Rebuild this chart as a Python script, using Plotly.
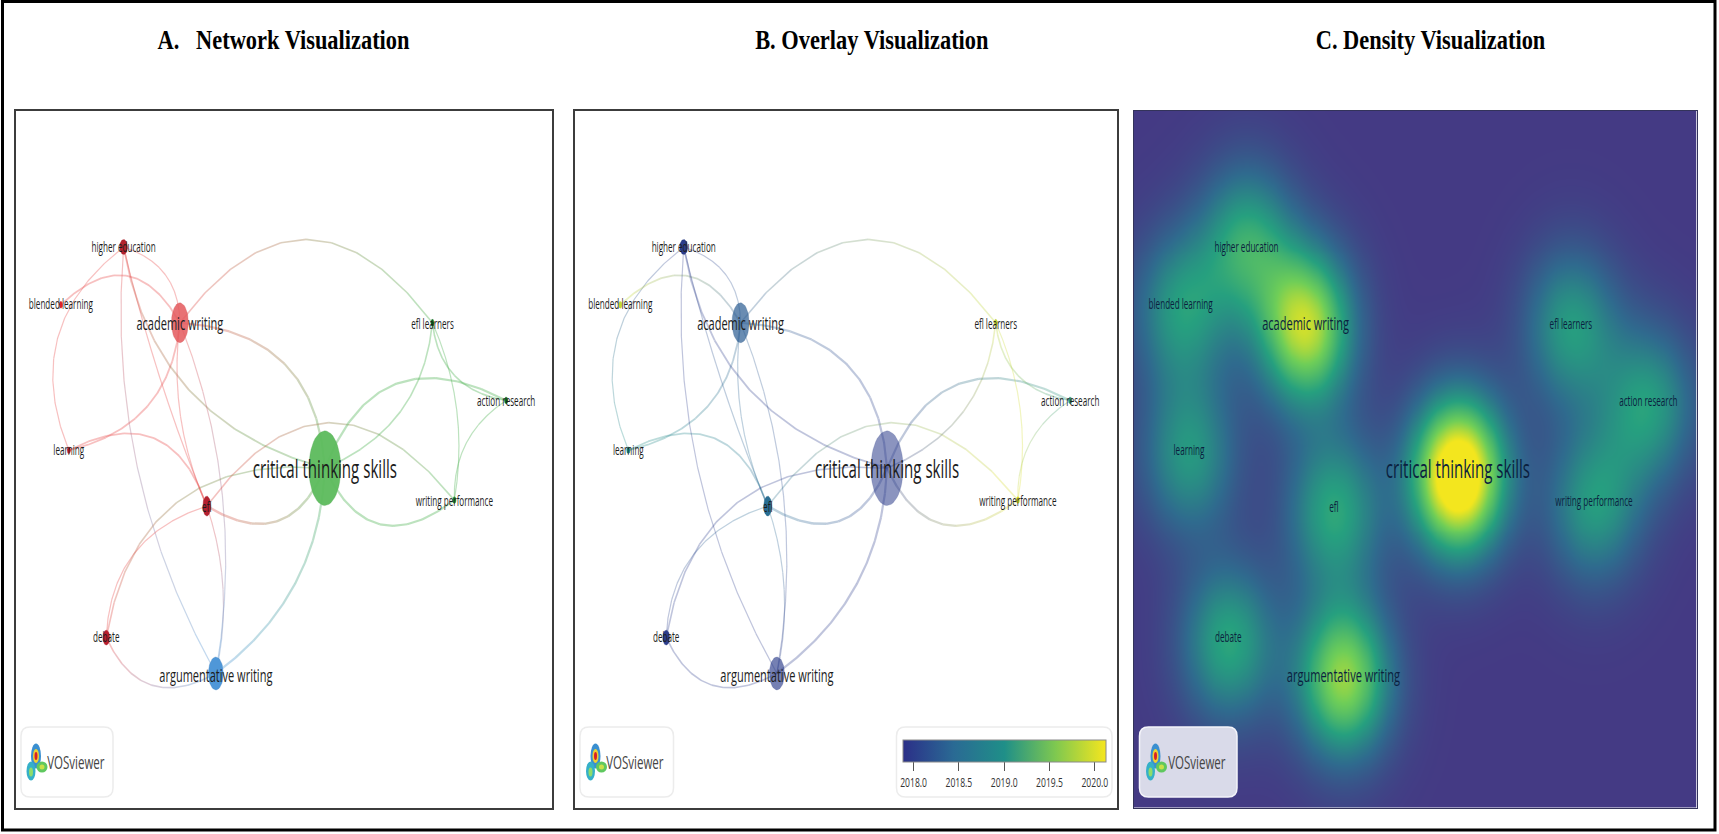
import numpy as np
import plotly.graph_objects as go
from plotly.colors import sample_colorscale

W, H = 1719, 834

# network (panel units: 538 wide, 700 high, y up)
node_names = ["higher education", "blended learning", "academic writing", "efl learners",
              "action research", "learning", "critical thinking skills", "efl",
              "writing performance", "debate", "argumentative writing"]
node_x = [108, 45, 164.5, 418, 492, 53, 310, 191.5, 440, 90.6, 200.6]
node_y = [563, 505, 487, 487, 409, 359, 341, 303, 309, 171, 135]
node_w = [8, 3.5, 17, 3.5, 3.5, 3.5, 32, 8, 3.5, 7, 15]
node_h = [15, 7, 40, 7, 7, 7, 75, 20, 7, 15, 33]
label_y = [562, 504, 484, 484, 407, 358, 338, 301, 307, 170, 131]
label_size = [14, 14, 19, 14, 14, 14, 26, 14, 14, 14, 19]

cluster_colors = ["#b3222e", "#e0202a", "#e4585c", "#0c6e1f", "#0c6e1f", "#c81e2a",
                  "#5cbb5c", "#b5202e", "#1c8a2c", "#b81e2c", "#4f97d8"]
edge_colors = ["#e8504f", "#e8504f", "#e8504f", "#45b04a", "#45b04a", "#e8504f",
               "#45b04a", "#e8504f", "#45b04a", "#e8504f", "#4f97d8"]
node_alpha = [1, 1, .85, 1, 1, 1, .95, 1, 1, 1, 1]

overlay_years = [2018.0, 2019.9, 2018.3, 2019.9, 2019.1, 2019.0, 2018.0, 2018.5, 2020.0, 2018.0, 2018.0]
overlay_alpha = [1, 1, .7, 1, 1, 1, .55, 1, 1, 1, .65]
year_ticks = [2018.0, 2018.5, 2019.0, 2019.5, 2020.0]
year_min, year_max = 2017.88, 2020.12

# links: source, target, sideways bulge (share of chord), width
edge_src = [0, 0, 1, 5, 5, 0, 0, 0, 2, 2, 2, 2, 7, 7, 7, 9, 7, 9, 6, 6, 6, 6, 3, 3, 4]
edge_dst = [2, 5, 2, 2, 7, 10, 7, 6, 7, 10, 6, 3, 6, 10, 9, 6, 8, 10, 10, 8, 3, 4, 4, 8, 8]
edge_bend = [.18, -.19, .32, -.18, .29, -.076, -.02, -.16, -.07, .07, .22, .33, -.29, .07,
             -.175, .23, .325, -.27, .12, -.31, -.15, .28, -.19, .075, -.14]
edge_width = [1.2, 1.2, 1.8, 1.8, 1.8, 1.2, 1.2, 1.8, 1.2, 1.2, 2.2, 1.6, 2.4, 1.2, 1.2, 1.6, 1.6, 1.6, 2.2, 2.2, 1.6, 2.2, 1.6, 1.2, 1.2]

# density heights, kernel spread is the same for every term
density_y = [568, 500, 482, 482, 404, 354, 334, 298, 304, 166, 130]
density_peak = [.52, .46, .90, .47, .47, .45, 1.22, .52, .46, .52, .82]
density_sx, density_sy = 32, 56

density_scale = [[0, "#443a84"], [.25, "#2f6b8e"], [.5, "#26a07f"], [.75, "#6fce58"], [1, "#f3e61e"]]
year_scale = [[0, "#2b2f88"], [.25, "#2a6a94"], [.5, "#1f8f88"], [.75, "#7ec850"], [1, "#f5e61e"]]

titles = ["A.   Network Visualization", "B. Overlay Visualization", "C. Density Visualization"]
title_x = [283, 872, 1430]
panels = [(16, 552), (575, 1116.5), (1133.5, 1696.5)]
panel_top, panel_bottom = 110.5, 808
label_font = "Open Sans, sans-serif"


def to_rgb(c):
    if c.startswith("#"):
        return [int(c[i:i + 2], 16) for i in (1, 3, 5)]
    return [int(float(v)) for v in c[c.index("(") + 1:-1].split(",")]


def add_network(fig, colors, line_colors, alphas, xa, ya, edge_alpha):
    for s, d, b, lw in zip(edge_src, edge_dst, edge_bend, edge_width):
        x0, y0, x1, y1 = node_x[s], node_y[s], node_x[d], node_y[d]
        # control point, so the curve middle sits b * chord off the chord
        cx = (x0 + x1) / 2 - 2 * b * (y1 - y0)
        cy = (y0 + y1) / 2 + 2 * b * (x1 - x0)
        t = np.linspace(0, 1, 11)
        px = (1 - t) ** 2 * x0 + 2 * t * (1 - t) * cx + t ** 2 * x1
        py = (1 - t) ** 2 * y0 + 2 * t * (1 - t) * cy + t ** 2 * y1
        c0, c1 = np.array(to_rgb(line_colors[s])), np.array(to_rgb(line_colors[d]))
        for i in range(10):
            c = c0 + (c1 - c0) * (i + .5) / 10
            fig.add_trace(go.Scatter(
                x=px[i:i + 2], y=py[i:i + 2], mode="lines", xaxis=xa, yaxis=ya,
                line=dict(color="rgba(%d,%d,%d,%.2f)" % (c[0], c[1], c[2], edge_alpha), width=lw),
                hoverinfo="skip", showlegend=False))
    a = np.linspace(0, 2 * np.pi, 49)
    for i in range(len(node_names)):
        r, g, b = to_rgb(colors[i])
        fig.add_trace(go.Scatter(
            x=node_x[i] + node_w[i] / 2 * np.cos(a), y=node_y[i] + node_h[i] / 2 * np.sin(a),
            mode="lines", fill="toself", xaxis=xa, yaxis=ya, hoverinfo="skip", showlegend=False,
            fillcolor="rgba(%d,%d,%d,%.2f)" % (r, g, b, alphas[i]),
            line=dict(color="rgba(%d,%d,%d,%.2f)" % (r * .9, g * .9, b * .9, alphas[i] * .6), width=.5)))


def add_labels(fig, xa, ya, color):
    fig.add_trace(go.Scatter(
        x=node_x, y=label_y, text=node_names, mode="text", xaxis=xa, yaxis=ya,
        textposition="middle center", hoverinfo="skip", showlegend=False,
        textfont=dict(family=label_font, size=label_size, color=color)))


def fx(px):
    return px / W


def fy(py):
    return 1 - py / H


def rounded_box(x0, y0, x1, y1, r=9):
    return ("M %g,%g L %g,%g Q %g,%g %g,%g L %g,%g Q %g,%g %g,%g L %g,%g Q %g,%g %g,%g L %g,%g Q %g,%g %g,%g Z"
            % (fx(x0 + r), fy(y0), fx(x1 - r), fy(y0), fx(x1), fy(y0), fx(x1), fy(y0 + r),
               fx(x1), fy(y1 - r), fx(x1), fy(y1), fx(x1 - r), fy(y1),
               fx(x0 + r), fy(y1), fx(x0), fy(y1), fx(x0), fy(y1 - r),
               fx(x0), fy(y0 + r), fx(x0), fy(y0), fx(x0 + r), fy(y0)))


fig = go.Figure()

# A
add_network(fig, cluster_colors, edge_colors, node_alpha, "x", "y", .36)
add_labels(fig, "x", "y", "#1c1c1c")

# B
year_pos = [(v - year_min) / (year_max - year_min) for v in overlay_years]
year_colors = sample_colorscale(year_scale, year_pos)
add_network(fig, year_colors, year_colors, overlay_alpha, "x2", "y2", .3)
fig.add_trace(go.Scatter(
    x=node_x, y=node_y, mode="markers", xaxis="x2", yaxis="y2", hoverinfo="skip", showlegend=False,
    marker=dict(size=1, opacity=0, color=overlay_years, coloraxis="coloraxis")))
add_labels(fig, "x2", "y2", "#1c1c1c")

# C
gx = np.linspace(0, 538, 136)
gy = np.linspace(0, 700, 176)
xx, yy = np.meshgrid(gx, gy)
dens = np.zeros_like(xx)
for i in range(len(node_names)):
    dens += density_peak[i] * np.exp(-.5 * (((xx - node_x[i]) / density_sx) ** 2 + ((yy - density_y[i]) / density_sy) ** 2))
fig.add_trace(go.Heatmap(
    x=gx, y=gy, z=dens, xaxis="x3", yaxis="y3", zmin=0, zmax=1, zsmooth="best",
    colorscale=density_scale, showscale=False, hoverinfo="skip"))
add_labels(fig, "x3", "y3", "#0b1f3f")

axis = dict(showgrid=False, zeroline=False, showticklabels=False, ticks="", showline=True, mirror=True,
            linecolor="#3c3c3c", linewidth=2, fixedrange=True)
axis_c = dict(axis, linecolor="#33335a", linewidth=1)
ydom = [fy(panel_bottom), fy(panel_top)]
fig.update_layout(
    width=W, height=H, margin=dict(l=0, r=0, t=0, b=0), paper_bgcolor="white", plot_bgcolor="white",
    showlegend=False,
    xaxis=dict(axis, domain=[fx(panels[0][0]), fx(panels[0][1])], range=[0, 538]),
    yaxis=dict(axis, domain=ydom, range=[0, 700]),
    xaxis2=dict(axis, domain=[fx(panels[1][0]), fx(panels[1][1])], range=[0, 538]),
    yaxis2=dict(axis, domain=ydom, range=[0, 700], anchor="x2"),
    xaxis3=dict(axis_c, domain=[fx(panels[2][0]), fx(panels[2][1])], range=[0, 538]),
    yaxis3=dict(axis_c, domain=ydom, range=[0, 700], anchor="x3"),
    coloraxis=dict(
        cmin=year_min, cmax=year_max, colorscale=year_scale,
        colorbar=dict(orientation="h", x=fx(1004.2), xanchor="center", y=fy(740), yanchor="top",
                      len=202.5, lenmode="pixels", thickness=22, thicknessmode="pixels",
                      xpad=0, ypad=0, outlinecolor="#8a8a8a", outlinewidth=1,
                      tickvals=year_ticks, tickformat=".1f", ticks="outside", ticklen=9,
                      tickcolor="#555", tickfont=dict(family=label_font, size=13, color="#333"))))

shapes = [dict(type="rect", xref="paper", yref="paper", x0=fx(2.5), x1=fx(1715), y0=fy(830), y1=fy(1.5),
               line=dict(color="black", width=3))]
# legend boxes and the little VOSviewer logo
logo_boxes = [(21, 113, "white", "#ececec"), (580, 673.5, "white", "#ececec"), (1139.5, 1237, "#d9dae9", "#f4f4fa")]
logo_icons = [36, 595.5, 1155.5]
logo_text = [75.5, 635, 1197]
logo_parts = [(0, -6, 10, 25, "#3a8fd0"), (-5, 9, 9, 19, "#35b0c8"), (6, 5, 11, 11, "#5fc85f"),
              (0, -6, 6, 14, "#f0d030"), (0, -6, 3, 8, "#d8202a"), (-5, 10, 4, 9, "#8fdc6a"),
              (6, 5, 5, 5, "#c8e048")]
for (x0, x1, fc, lc), ic in zip(logo_boxes, logo_icons):
    shapes.append(dict(type="path", xref="paper", yref="paper", path=rounded_box(x0, 727, x1, 797),
                       fillcolor=fc, line=dict(color=lc, width=1.5)))
    for dx, dy, w, h, c in logo_parts:
        shapes.append(dict(type="circle", xref="paper", yref="paper", fillcolor=c, line=dict(width=0),
                           x0=fx(ic + dx - w / 2), x1=fx(ic + dx + w / 2),
                           y0=fy(762 + dy + h / 2), y1=fy(762 + dy - h / 2)))
shapes.append(dict(type="path", xref="paper", yref="paper", path=rounded_box(896.5, 727, 1112, 797),
                   fillcolor="white", line=dict(color="#ececec", width=1.5)))
fig.update_layout(shapes=shapes)

for t, x in zip(titles, title_x):
    fig.add_annotation(text=t.replace("   ", "\u00a0\u00a0\u00a0"), xref="paper", yref="paper", x=fx(x), y=fy(39),
                       showarrow=False, xanchor="center", yanchor="middle",
                       font=dict(family="Liberation Serif, serif", size=28, color="black", weight=700))
for x in logo_text:
    fig.add_annotation(text="VOSviewer", xref="paper", yref="paper", x=fx(x), y=fy(762), showarrow=False,
                       xanchor="center", yanchor="middle",
                       font=dict(family=label_font, size=18, color="#444"))

# the reference text is squeezed sideways, so narrow the glyphs once drawn
squeeze = """
function squeeze(sel, k, word) {
  document.querySelectorAll(sel).forEach(function (t) {
    if (t.getAttribute('textLength')) return;
    if (word !== undefined && t.textContent !== word) return;
    t.setAttribute('lengthAdjust', 'spacingAndGlyphs');
    t.setAttribute('textLength', t.getComputedTextLength() * k);
  });
}
function squeezeAll() {
  squeeze('.textpoint text', 0.58);
  squeeze('.colorbar text', 0.66);
  squeeze('.annotation-text', 0.64, 'VOSviewer');
  squeeze('.annotation-text', 0.8);
}
document.body.style.margin = '0';
squeezeAll();
setTimeout(squeezeAll, 50);
"""
fig.write_html("out.html", post_script=squeeze, config=dict(displayModeBar=False))
